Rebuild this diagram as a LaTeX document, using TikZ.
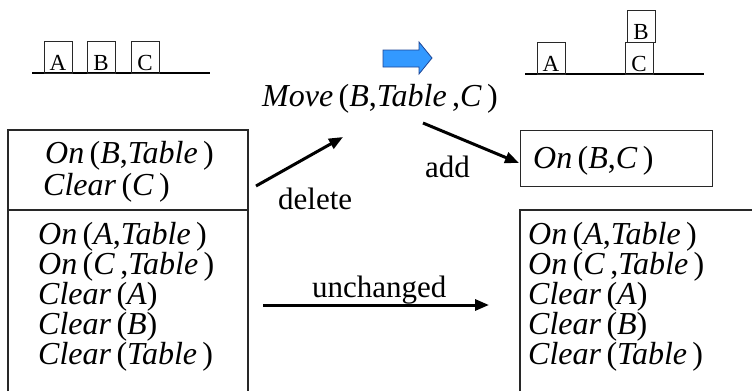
\documentclass[tikz,border=0pt]{standalone}
\usepackage{fontspec}
\setmainfont{Liberation Serif}
\usetikzlibrary{arrows.meta}
\definecolor{arrowblue}{RGB}{51,153,255}
\definecolor{arrowedge}{RGB}{30,70,150}
\definecolor{linegray}{RGB}{40,40,40}
\newcommand{\ii}[1]{\textit{#1}}
\newcommand{\blkletter}[1]{\smash{\raisebox{-13pt}{#1}}}
\tikzset{
  blk/.style={draw=linegray, line width=1pt, minimum width=28pt, minimum height=32pt, inner sep=0pt, font=\fontsize{23}{23}\selectfont},
  fact/.style={anchor=base west, inner sep=0pt, font=\fontsize{32}{30}\selectfont},
  lbl/.style={anchor=base west, inner sep=0pt, font=\fontsize{31}{31}\selectfont},
  frame/.style={draw=linegray, line width=1.3pt},
  ground/.style={draw=black, line width=1.5pt},
  conn/.style={draw=black, line width=3pt, -{Triangle[length=14pt,width=11pt]}},
}
\begin{document}
\begin{tikzpicture}[x=1pt,y=-1pt]
\useasboundingbox (0,0) rectangle (752,391);
% initial state blocks
\draw[ground] (32,73) -- (210,73);
\node[blk] (ba1) at (58,57) {\blkletter{A}};
\node[blk] (bb1) at (101,57) {\blkletter{B}};
\node[blk] (bc1) at (145,57) {\blkletter{C}};
% result state blocks
\draw[ground] (525,74) -- (704,74);
\node[blk] (ba2) at (551,58) {\blkletter{A}};
\node[blk] (bc2) at (639,58) {\blkletter{C}};
\node[blk] (bb2) at (641,26) {\blkletter{B}};
% blue arrow
\draw[fill=arrowblue, draw=arrowedge, line width=0.8pt]
  (383,50) -- (419,50) -- (419,42) -- (432,58) -- (419,74) -- (419,67) -- (383,67) -- cycle;
% action
\node[anchor=base, inner sep=0pt, font=\fontsize{32}{32}\selectfont] (move) at (380,106)
  {\ii{Move}\,(\ii{B},\ii{Table}\,,\ii{C}\,)};
% left box
\draw[frame] (8,391) -- (8,130) -- (248,130) -- (248,391);
\draw[frame] (8,210) -- (248,210);
\node[fact] (d1) at (45,163) {\ii{On}\,(\ii{B},\ii{Table}\,)};
\node[fact] (d2) at (43,195) {\ii{Clear}\,(\ii{C}\,)};
\node[fact] (l1) at (38,244) {\ii{On}\,(\ii{A},\ii{Table}\,)};
\node[fact] (l2) at (38,274) {\ii{On}\,(\ii{C}\,,\ii{Table}\,)};
\node[fact] (l3) at (38,304) {\ii{Clear}\,(\ii{A})};
\node[fact] (l4) at (38,334) {\ii{Clear}\,(\ii{B})};
\node[fact] (l5) at (38,364) {\ii{Clear}\,(\ii{Table}\,)};
% right boxes
\node[draw=linegray, line width=1.3pt, minimum width=192pt, minimum height=56pt, anchor=north west, inner sep=0pt] (addbox) at (520,130) {};
\node[fact] (a1) at (533,168) {\ii{On}\,(\ii{B},\ii{C}\,)};
\draw[frame] (520,391) -- (520,210) -- (752,210);
\node[fact] (r1) at (528,244) {\ii{On}\,(\ii{A},\ii{Table}\,)};
\node[fact] (r2) at (528,274) {\ii{On}\,(\ii{C}\,,\ii{Table}\,)};
\node[fact] (r3) at (528,304) {\ii{Clear}\,(\ii{A})};
\node[fact] (r4) at (528,334) {\ii{Clear}\,(\ii{B})};
\node[fact] (r5) at (528,364) {\ii{Clear}\,(\ii{Table}\,)};
% connectors
\coordinate (delS) at (256,186);
\coordinate (delE) at (343,137);
\coordinate (addS) at (423,123);
\coordinate (addE) at (519,163);
\coordinate (unS) at (263,305);
\coordinate (unE) at (489,305);
\draw[conn] (delS) -- (delE);
\draw[conn] (addS) -- (addE);
\draw[conn] (unS) -- (unE);
\node[lbl] (tdel) at (278,209) {delete};
\node[lbl] (tadd) at (425,177) {add};
\node[lbl] (tun) at (312,297) {unchanged};
\end{tikzpicture}
\end{document}
